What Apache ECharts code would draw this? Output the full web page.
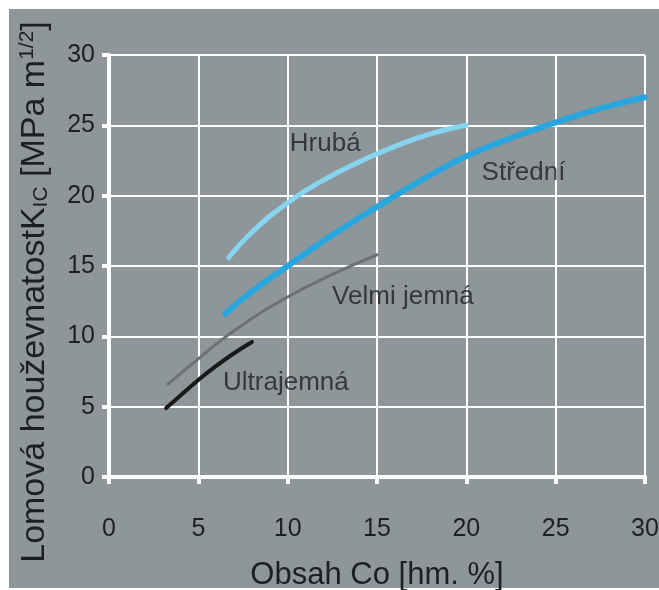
<!DOCTYPE html>
<html>
<head>
<meta charset="utf-8">
<script src="https://cdn.jsdelivr.net/npm/echarts@6/dist/echarts.min.js"></script>
<style>
  html, body { margin: 0; padding: 0; background: #ffffff; }
  #frame { position: absolute; left: 9px; top: 9px; right: 0; bottom: 2px; background: #8f9699; }
  #chart { position: absolute; left: 0; top: 0; width: 659px; height: 590px; }
</style>
</head>
<body>
<div id="frame"></div>
<div id="chart"></div>
<script>
// Fracture toughness K_IC vs. cobalt content for WC grain-size classes
const xTicks = [0, 5, 10, 15, 20, 25, 30];
const yTicks = [0, 5, 10, 15, 20, 25, 30];

const hrubaX = [6.7, 8, 10, 12, 14, 16, 18, 20];
const hrubaY = [15.6, 17.4, 19.5, 21.1, 22.4, 23.5, 24.4, 25.0];

const stredniX = [6.5, 8, 10, 12.5, 15, 17.5, 20, 22.5, 25, 27.5, 30];
const stredniY = [11.6, 13.2, 15.0, 17.2, 19.2, 21.1, 22.8, 24.1, 25.2, 26.2, 27.0];

const velmiX = [3.3, 5, 7, 10, 12.5, 15];
const velmiY = [6.6, 8.4, 10.4, 12.8, 14.4, 15.8];

const ultraX = [3.2, 4, 5, 6, 7, 8.0];
const ultraY = [4.9, 5.8, 6.9, 7.9, 8.8, 9.6];

const curveNames = ['Hrubá', 'Střední', 'Velmi jemná', 'Ultrajemná'];
const labelX = [12.1, 23.2, 16.45, 9.9];
const labelY = [23.7, 21.6, 12.8, 6.7];

const pairs = (xs, ys) => xs.map((x, i) => [x, ys[i]]);

const chart = echarts.init(document.getElementById('chart'), null, { renderer: 'canvas' });

const textColor = '#1e1f21';
const font = 'Liberation Sans, Arial, sans-serif';

function curve(name, xs, ys, color, width) {
  return {
    name: name, type: 'line', smooth: true, showSymbol: false,
    data: pairs(xs, ys),
    lineStyle: { color: color, width: width, cap: 'round' },
    z: 3
  };
}

chart.setOption({
  backgroundColor: 'transparent',
  animation: false,
  grid: { left: 109, right: 14, top: 55, bottom: 113, containLabel: false, outerBoundsMode: 'none' },
  xAxis: {
    type: 'value', min: 0, max: 30, interval: 5,
    name: 'Obsah Co [hm. %]', nameLocation: 'middle', nameGap: 83,
    nameTextStyle: { color: textColor, fontSize: 31, fontFamily: font, verticalAlign: 'top' },
    axisLine: { show: true, lineStyle: { color: '#ffffff', width: 4 } },
    axisTick: { show: true, length: 7, lineStyle: { color: '#ffffff', width: 4 } },
    axisLabel: { color: textColor, fontSize: 25, fontFamily: font, margin: 40,
      formatter: v => xTicks.includes(v) ? String(v) : '' },
    splitLine: { show: true, lineStyle: { color: '#ffffff', width: 2 } }
  },
  yAxis: {
    type: 'value', min: 0, max: 30, interval: 5,
    name: 'Lomová houževnatostK{sub|IC} [MPa m{sup|1/2}]',
    nameLocation: 'middle', nameGap: 57, nameRotate: 90,
    nameTextStyle: {
      color: textColor, fontSize: 34, fontFamily: font, padding: [0, 52, 0, 0],
      rich: {
        sub: { fontSize: 21, fontFamily: font, color: textColor, verticalAlign: 'bottom', padding: [14, 0, 0, 0] },
        sup: { fontSize: 21, fontFamily: font, color: textColor, verticalAlign: 'top', padding: [0, 0, 12, 0] }
      }
    },
    axisLine: { show: true, lineStyle: { color: '#ffffff', width: 4 } },
    axisTick: { show: true, length: 7, lineStyle: { color: '#ffffff', width: 4 } },
    axisLabel: { color: textColor, fontSize: 25, fontFamily: font, margin: 14,
      formatter: v => yTicks.includes(v) ? String(v) : '' },
    splitLine: { show: true, lineStyle: { color: '#ffffff', width: 2 } }
  },
  series: [
    curve('Velmi jemná', velmiX, velmiY, '#6d7173', 3),
    curve('Ultrajemná', ultraX, ultraY, '#1a1a1a', 4),
    curve('Střední', stredniX, stredniY, '#2aa6df', 6),
    curve('Hrubá', hrubaX, hrubaY, '#87d4f1', 5),
    {
      name: 'popisky', type: 'scatter', symbolSize: 0, silent: true, z: 4,
      data: curveNames.map((n, i) => ({ value: [labelX[i], labelY[i]], name: n })),
      label: { show: true, position: 'inside', formatter: p => p.name,
        color: textColor, fontSize: 26, fontFamily: font }
    }
  ]
});
</script>
</body>
</html>
